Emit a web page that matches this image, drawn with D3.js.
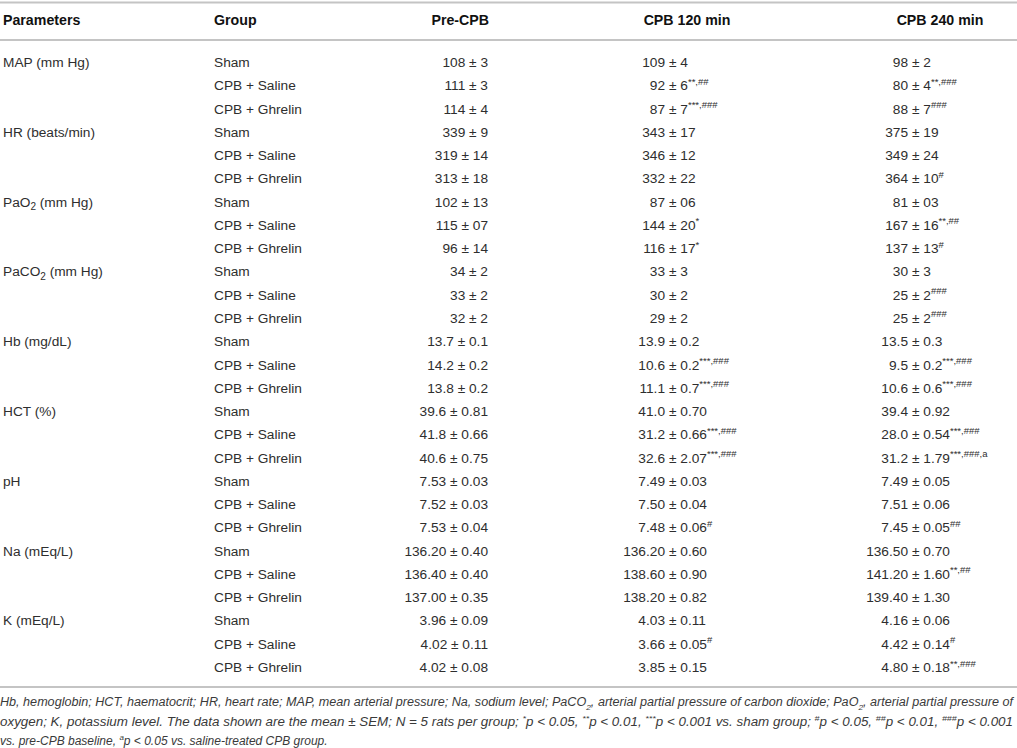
<!DOCTYPE html>
<html>
<head>
<meta charset="utf-8">
<script src="https://cdn.jsdelivr.net/npm/d3@7"></script>
<style>
  body { margin: 0; background: #fff; }
  text { font-family: "Liberation Sans", Arial, Helvetica, sans-serif; white-space: pre; }
</style>
</head>
<body>
<script>
// parameters (one per block of three rows), _{} = subscript
const parameters = ["MAP (mm Hg)", "HR (beats/min)", "PaO_{2} (mm Hg)", "PaCO_{2} (mm Hg)",
  "Hb (mg/dL)", "HCT (%)", "pH", "Na (mEq/L)", "K (mEq/L)"];
const groups = ["Sham", "CPB + Saline", "CPB + Ghrelin"];
const headers = ["Parameters", "Group", "Pre-CPB", "CPB 120 min", "CPB 240 min"];

// mean ± SEM, row by row
const preCPB = ["108 ± 3", "111 ± 3", "114 ± 4", "339 ± 9", "319 ± 14", "313 ± 18",
  "102 ± 13", "115 ± 07", "96 ± 14", "34 ± 2", "33 ± 2", "32 ± 2",
  "13.7 ± 0.1", "14.2 ± 0.2", "13.8 ± 0.2", "39.6 ± 0.81", "41.8 ± 0.66", "40.6 ± 0.75",
  "7.53 ± 0.03", "7.52 ± 0.03", "7.53 ± 0.04", "136.20 ± 0.40", "136.40 ± 0.40", "137.00 ± 0.35",
  "3.96 ± 0.09", "4.02 ± 0.11", "4.02 ± 0.08"];
const cpb120 = ["109 ± 4", "92 ± 6", "87 ± 7", "343 ± 17", "346 ± 12", "332 ± 22",
  "87 ± 06", "144 ± 20", "116 ± 17", "33 ± 3", "30 ± 2", "29 ± 2",
  "13.9 ± 0.2", "10.6 ± 0.2", "11.1 ± 0.7", "41.0 ± 0.70", "31.2 ± 0.66", "32.6 ± 2.07",
  "7.49 ± 0.03", "7.50 ± 0.04", "7.48 ± 0.06", "136.20 ± 0.60", "138.60 ± 0.90", "138.20 ± 0.82",
  "4.03 ± 0.11", "3.66 ± 0.05", "3.85 ± 0.15"];
const cpb120Marks = ["", "**,##", "***,###", "", "", "",
  "", "*", "*", "", "", "",
  "", "***,###", "***,###", "", "***,###", "***,###",
  "", "", "#", "", "", "",
  "", "#", ""];
const cpb240 = ["98 ± 2", "80 ± 4", "88 ± 7", "375 ± 19", "349 ± 24", "364 ± 10",
  "81 ± 03", "167 ± 16", "137 ± 13", "30 ± 3", "25 ± 2", "25 ± 2",
  "13.5 ± 0.3", "9.5 ± 0.2", "10.6 ± 0.6", "39.4 ± 0.92", "28.0 ± 0.54", "31.2 ± 1.79",
  "7.49 ± 0.05", "7.51 ± 0.06", "7.45 ± 0.05", "136.50 ± 0.70", "141.20 ± 1.60", "139.40 ± 1.30",
  "4.16 ± 0.06", "4.42 ± 0.14", "4.80 ± 0.18"];
const cpb240Marks = ["", "**,###", "###", "", "", "#",
  "", "**,##", "#", "", "###", "###",
  "", "***,###", "***,###", "", "***,###", "***,###,a",
  "", "", "##", "", "**,##", "",
  "", "#", "**,###"];

// footnote lines, ^{} = superscript, _{} = subscript
const footnote = [
  "Hb, hemoglobin; HCT, haematocrit; HR, heart rate; MAP, mean arterial pressure; Na, sodium level; PaCO_{2}, arterial partial pressure of carbon dioxide; PaO_{2}, arterial partial pressure of",
  "oxygen; K, potassium level. The data shown are the mean ± SEM; N = 5 rats per group; ^{*}p < 0.05, ^{**}p < 0.01, ^{***}p < 0.001 vs. sham group; ^{#}p < 0.05, ^{##}p < 0.01, ^{###}p < 0.001",
  "vs. pre-CPB baseline, ^{a}p < 0.05 vs. saline-treated CPB group."
];

const w = 1017;
const h = 748;
const fs = 13.7;
const lineColor = "#c4c4c4";
const textColor = "#2e2e2e";

const svg = d3.select("body").append("svg").attr("width", w).attr("height", h);

const nRows = preCPB.length;
const y = d3.scalePoint().domain(d3.range(nRows)).range([67, 672]);

// column anchors
const xParam = 3, xGroup = 214, xPre = 488, pm120 = 673, pm240 = 916;

// writes text with ^{} and _{} markup as tspans
function rich(sel, str, small) {
  const parts = str.split(/(\^\{[^}]*\}|_\{[^}]*\})/).filter(function (s) { return s; });
  let shift = 0;
  parts.forEach(function (p) {
    let t = p, target = 0, size = null;
    if (p.startsWith("^{")) { t = p.slice(2, -1); target = -5; size = small; }
    else if (p.startsWith("_{")) { t = p.slice(2, -1); target = 3.5; size = small; }
    const ts = sel.append("tspan").attr("dy", target - shift).text(t);
    if (size) ts.attr("font-size", size);
    shift = target;
  });
}

// rules
[2.5, 40, 687].forEach(function (d) {
  svg.append("line").attr("x1", 0).attr("x2", w).attr("y1", d).attr("y2", d)
    .attr("stroke", lineColor).attr("stroke-width", 2);
});

// header
const hx = [xParam, xGroup, xPre + 1, 687, 940];
const ha = ["start", "start", "end", "middle", "middle"];
svg.selectAll("text.hdr")
  .data(headers)
  .enter()
  .append("text")
  .attr("class", "hdr")
  .attr("x", function (d, i) { return hx[i]; })
  .attr("y", 25)
  .attr("text-anchor", function (d, i) { return ha[i]; })
  .attr("font-size", 14.2)
  .attr("font-weight", "bold")
  .attr("fill", "#111")
  .text(function (d) { return d; });

const body = svg.append("g").attr("font-size", fs).attr("fill", textColor);

// parameter names
parameters.forEach(function (p, k) {
  const t = body.append("text").attr("x", xParam).attr("y", y(k * 3));
  rich(t, p, 10);
});

// groups
body.selectAll("text.grp")
  .data(d3.range(nRows))
  .enter()
  .append("text")
  .attr("class", "grp")
  .attr("x", xGroup)
  .attr("y", function (i) { return y(i); })
  .text(function (i) { return groups[i % 3]; });

// pre-CPB, right aligned
body.selectAll("text.pre")
  .data(preCPB)
  .enter()
  .append("text")
  .attr("class", "pre")
  .attr("x", xPre)
  .attr("y", function (d, i) { return y(i); })
  .attr("text-anchor", "end")
  .text(function (d) { return d; });

// CPB columns, aligned on the ± sign
function pmColumn(values, marks, px) {
  values.forEach(function (v, i) {
    const parts = v.split(" ± ");
    body.append("text")
      .attr("x", px - 8)
      .attr("y", y(i))
      .attr("text-anchor", "end")
      .text(parts[0]);
    const t = body.append("text").attr("x", px - 4).attr("y", y(i));
    t.append("tspan").text("± " + parts[1]);
    if (marks[i]) {
      t.append("tspan").attr("dy", -5.5).attr("font-size", 9.5).text(marks[i]);
    }
  });
}
pmColumn(cpb120, cpb120Marks, pm120);
pmColumn(cpb240, cpb240Marks, pm240);

// footnote
const fy = [706, 726, 745];
footnote.forEach(function (line, i) {
  const t = svg.append("text")
    .attr("x", 0)
    .attr("y", fy[i])
    .attr("font-size", 12)
    .attr("font-style", "italic")
    .attr("fill", "#3a3a3a");
  rich(t, line, 8);
  if (i < 2) t.attr("textLength", 1013).attr("lengthAdjust", "spacingAndGlyphs");
});
</script>
</body>
</html>
